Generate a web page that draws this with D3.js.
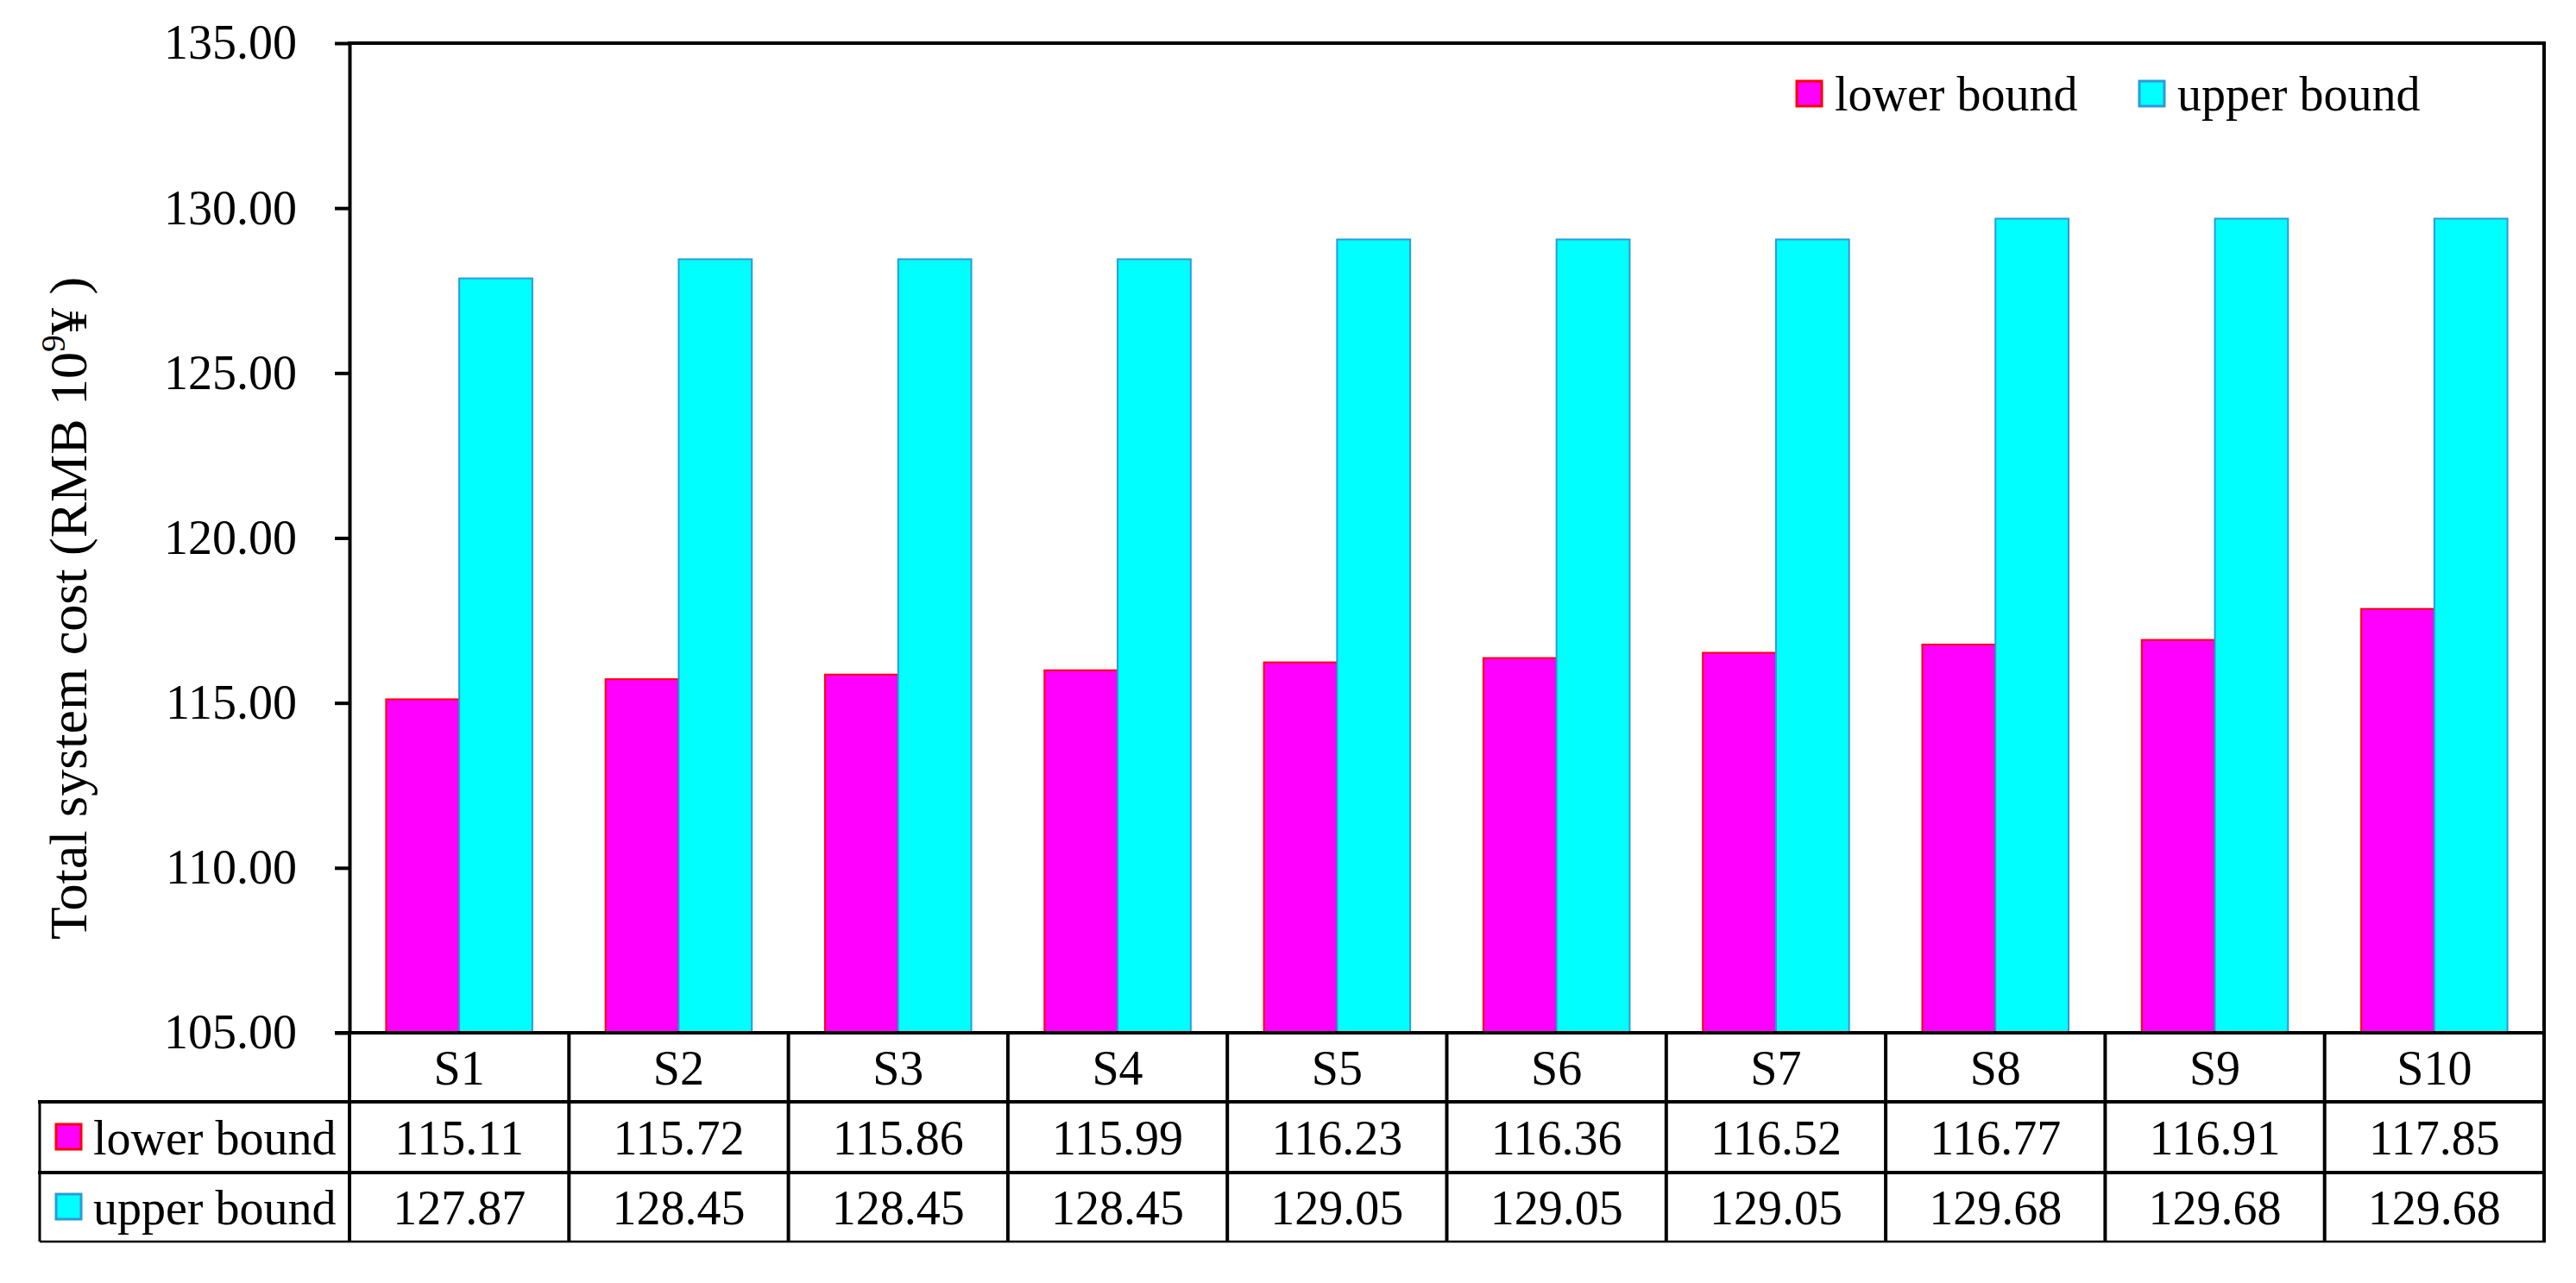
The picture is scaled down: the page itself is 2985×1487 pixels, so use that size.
<!DOCTYPE html>
<html>
<head>
<meta charset="utf-8">
<script src="https://cdn.jsdelivr.net/npm/d3@7"></script>
<style>
  html, body { margin: 0; padding: 0; background: #fff; }
  svg { display: block; }
  text { font-family: "Liberation Serif", "Times New Roman", serif; fill: #000; }
</style>
</head>
<body>
<svg id="chart" width="2985" height="1487"></svg>
<script>
// ---- data ----
const categories = ["S1","S2","S3","S4","S5","S6","S7","S8","S9","S10"];
const lowerBound = [115.11, 115.72, 115.86, 115.99, 116.23, 116.36, 116.52, 116.77, 116.91, 117.85];
const upperBound = [127.87, 128.45, 128.45, 128.45, 129.05, 129.05, 129.05, 129.68, 129.68, 129.68];
const seriesNames = ["lower bound", "upper bound"];
const yTicks = [105, 110, 115, 120, 125, 130, 135];
const yLabel = "Total system cost (RMB 10";

// ---- layout ----
const svg = d3.select("#chart");
const pLeft = 405, pRight = 2948, pTop = 50, pBottom = 1197;
const rowY = [1197, 1277, 1359, 1439];
const tableLeft = 46;
const fontSize = 56;
const fills = ["#FF00FF", "#00FFFF"];
const strokes = ["#FF0000", "#2A9BD8"];

const x = d3.scaleBand().domain(categories).range([pLeft, pRight]).paddingInner(0).paddingOuter(0);
const xSub = d3.scaleBand().domain(seriesNames).range([0, x.bandwidth()]).paddingInner(0).paddingOuter(0.5);
const y = d3.scaleLinear().domain([105, 135]).range([pBottom, pTop]);

const rows = categories.map((c, i) => ({cat: c, vals: [lowerBound[i], upperBound[i]]}));

// bars
const groups = svg.append("g").selectAll("g").data(rows).join("g")
  .attr("transform", d => `translate(${x(d.cat)},0)`);
groups.selectAll("rect").data(d => d.vals.map((v, k) => ({k, v}))).join("rect")
  .attr("x", d => xSub(seriesNames[d.k]))
  .attr("width", xSub.bandwidth())
  .attr("y", d => y(d.v))
  .attr("height", d => y(105) - y(d.v))
  .attr("fill", d => fills[d.k])
  .attr("stroke", d => strokes[d.k])
  .attr("stroke-width", 2);

// y axis
const yAxis = d3.axisLeft(y).tickValues(yTicks).tickFormat(d3.format(".2f"))
  .tickSize(17).tickSizeOuter(0).tickPadding(44);
const gy = svg.append("g").attr("transform", `translate(${pLeft},0)`).call(yAxis);
gy.select(".domain").attr("stroke", "#000").attr("stroke-width", 4);
gy.selectAll(".tick line").attr("stroke", "#000").attr("stroke-width", 4);
gy.selectAll(".tick text").attr("font-size", fontSize)
  .style("font-family", '"Liberation Serif", "Times New Roman", serif').attr("fill", "#000");

// plot frame: top and right
svg.append("line").attr("x1", pLeft - 2).attr("x2", pRight + 2).attr("y1", pTop).attr("y2", pTop)
  .attr("stroke", "#000").attr("stroke-width", 4);
svg.append("line").attr("x1", pRight).attr("x2", pRight).attr("y1", pTop - 2).attr("y2", rowY[3])
  .attr("stroke", "#000").attr("stroke-width", 4);
// x axis baseline
svg.append("line").attr("x1", pLeft - 17).attr("x2", pRight + 2).attr("y1", pBottom).attr("y2", pBottom)
  .attr("stroke", "#000").attr("stroke-width", 4);

// y label
const yl = svg.append("text")
  .attr("transform", "translate(100,1089) rotate(-90)")
  .attr("font-size", 62).attr("text-anchor", "start");
yl.append("tspan").text(yLabel);
yl.append("tspan").attr("font-size", 40).attr("dy", -25).text("9");
yl.append("tspan").attr("dy", 25).text("\u00A5 )");

// ---- data table ----
const tbl = svg.append("g");
tbl.append("line").attr("x1", tableLeft - 2).attr("x2", pRight + 2).attr("y1", rowY[1]).attr("y2", rowY[1])
  .attr("stroke", "#000").attr("stroke-width", 4);
tbl.append("line").attr("x1", tableLeft - 2).attr("x2", pRight + 2).attr("y1", rowY[2]).attr("y2", rowY[2])
  .attr("stroke", "#000").attr("stroke-width", 4);
tbl.append("line").attr("x1", tableLeft).attr("x2", pRight + 2).attr("y1", rowY[3]).attr("y2", rowY[3])
  .attr("stroke", "#000").attr("stroke-width", 2.5);
tbl.append("line").attr("x1", tableLeft).attr("x2", tableLeft).attr("y1", rowY[1] - 2).attr("y2", rowY[3])
  .attr("stroke", "#000").attr("stroke-width", 3);
tbl.selectAll("line.col").data(categories).join("line").attr("class", "col")
  .attr("x1", d => x(d)).attr("x2", d => x(d)).attr("y1", rowY[0]).attr("y2", rowY[3])
  .attr("stroke", "#000").attr("stroke-width", 4);

tbl.selectAll("text.hdr").data(categories).join("text").attr("class", "hdr")
  .attr("x", d => x(d) + x.bandwidth() / 2).attr("y", (rowY[0] + rowY[1]) / 2)
  .attr("dy", "0.36em").attr("text-anchor", "middle").attr("font-size", fontSize).text(d => d);

[lowerBound, upperBound].forEach((arr, k) => {
  const cy = (rowY[k + 1] + rowY[k + 2]) / 2;
  tbl.selectAll(`text.v${k}`).data(arr).join("text").attr("class", `v${k}`)
    .attr("x", (d, i) => x(categories[i]) + x.bandwidth() / 2).attr("y", cy)
    .attr("dy", "0.36em").attr("text-anchor", "middle").attr("font-size", fontSize)
    .text(d => d3.format(".2f")(d));
  tbl.append("rect").attr("x", 65).attr("y", cy - 15).attr("width", 29).attr("height", 29)
    .attr("fill", fills[k]).attr("stroke", strokes[k]).attr("stroke-width", 3);
  tbl.append("text").attr("x", 108).attr("y", cy).attr("dy", "0.36em")
    .attr("font-size", fontSize).text(seriesNames[k]);
});

// ---- top legend ----
const legX = [2082, 2479];
const leg = svg.append("g");
seriesNames.forEach((name, k) => {
  leg.append("rect").attr("x", legX[k]).attr("y", 94).attr("width", 29).attr("height", 29)
    .attr("fill", fills[k]).attr("stroke", strokes[k]).attr("stroke-width", 3);
  leg.append("text").attr("x", legX[k] + 44).attr("y", 128).attr("font-size", fontSize).text(name);
});
</script>
</body>
</html>
